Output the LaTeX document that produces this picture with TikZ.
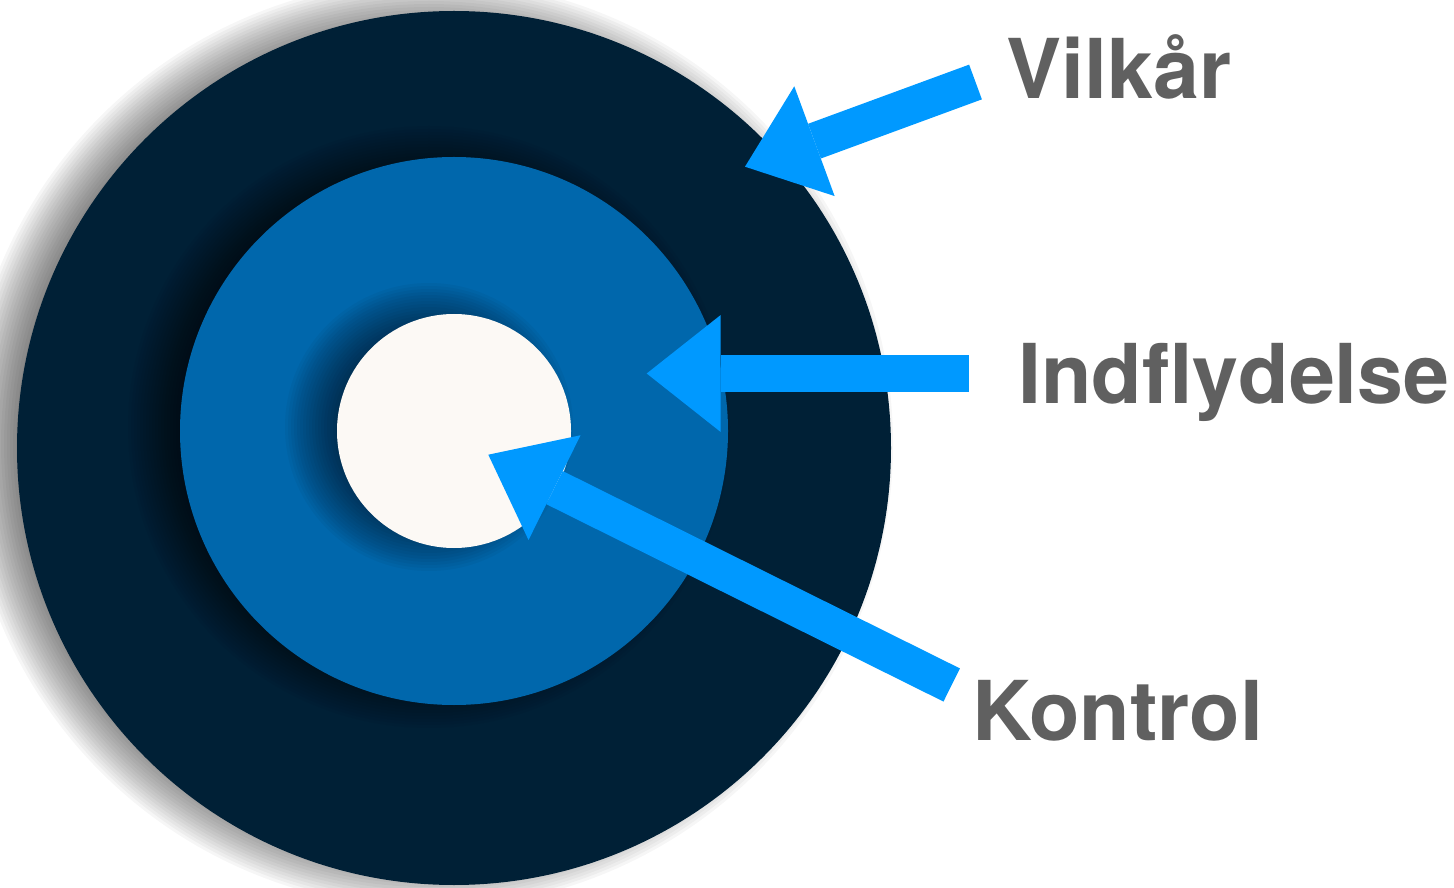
\documentclass[tikz,border=0pt]{standalone}
\usepackage{fontspec}
\setmainfont{TeX Gyre Heros}
\usetikzlibrary{arrows.meta}
\definecolor{navy}{HTML}{002036}
\definecolor{midblue}{HTML}{0067AC}
\definecolor{cream}{HTML}{FCF9F5}
\definecolor{arrowblue}{HTML}{0099FF}
\definecolor{labelgrey}{HTML}{606060}
\tikzset{
  pointer/.style={draw=arrowblue, line width=0.74cm, -{Triangle[length=1.48cm, width=2.34cm, line width=0pt]}},
  lbl/.style={anchor=base west, text=labelgrey, inner sep=0pt, font=\fontsize{47}{56}\selectfont\bfseries},
}
\begin{document}
\begin{tikzpicture}[x=0.02cm, y=-0.02cm]
\useasboundingbox (0,0) rectangle (1454,888);

\foreach \r/\cy/\col in {437/448/navy, 274/431/midblue, 117/431/cream}{
  \foreach \k in {1,...,20}
    \fill[black, opacity=0.035] (429, \cy-4) circle (\r+30-3*\k) ; % shadow
  \fill[\col] (454, \cy) circle (\r) ; % ring
}

\coordinate (vtail) at (975.5, 82) ; % Vilkaar
\coordinate (vtip) at (745, 166.7) ;
\coordinate (itail) at (968.7, 373.5) ; % Indflydelse
\coordinate (itip) at (646.7, 373.5) ;
\coordinate (ktail) at (951.7, 685) ; % Kontrol
\coordinate (ktip) at (488.3, 454.7) ;

\draw[pointer] (vtail) -- (vtip) ;
\draw[pointer] (itail) -- (itip) ;
\draw[pointer] (ktail) -- (ktip) ;

\node[lbl] (vilkaar) at (1006, 98.3) {Vilkår};
\node[lbl] (indfly) at (1018, 404) {Indflydelse};
\node[lbl] (kontrol) at (972, 740) {Kontrol};
\end{tikzpicture}
\end{document}
